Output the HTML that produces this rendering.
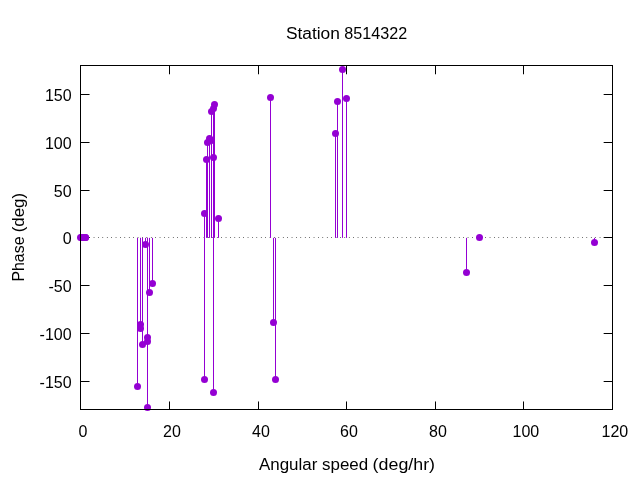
<!DOCTYPE html>
<html><head><meta charset="utf-8"><style>
html,body{margin:0;padding:0;background:#fff;width:640px;height:480px;overflow:hidden}
svg{display:block;will-change:transform}
</style></head><body>
<svg width="640" height="480" viewBox="0 0 640 480">
<rect width="640" height="480" fill="#fff"/>
<line x1="80.55" y1="237.5" x2="612.46" y2="237.5" stroke="#000" stroke-width="1" stroke-dasharray="0.55 3.85" />
<path d="M169.5 409.88V401.48M169.5 65.88V74.28M258.5 409.88V401.48M258.5 65.88V74.28M346.5 409.88V401.48M346.5 65.88V74.28M435.5 409.88V401.48M435.5 65.88V74.28M523.5 409.88V401.48M523.5 65.88V74.28M80.79 381.5H89.54M612.46 381.5H603.66M80.79 333.5H89.54M612.46 333.5H603.66M80.79 285.5H89.54M612.46 285.5H603.66M80.79 237.5H89.54M612.46 237.5H603.66M80.79 190.5H89.54M612.46 190.5H603.66M80.79 142.5H89.54M612.46 142.5H603.66M80.79 94.5H89.54M612.46 94.5H603.66" stroke="#000" stroke-width="1" fill="none"/>
<path d="M137.5 237.88V386.5M140.5 237.88V324.5M140.5 237.88V328.5M142.5 237.88V344.5M145.5 237.88V244.5M147.5 237.88V337.5M147.5 237.88V407.5M147.5 237.88V341.5M149.5 237.88V292.5M152.5 237.88V283.5M204.5 237.88V213.5M204.5 237.88V379.5M206.5 237.88V159.5M207.5 237.88V142.5M209.5 237.88V138.5M211.5 237.88V140.5M211.5 237.88V111.5M213.5 237.88V157.5M213.5 237.88V108.5M213.5 237.88V392.5M214.5 237.88V104.5M218.5 237.88V218.5M270.5 237.88V97.5M273.5 237.88V322.5M275.5 237.88V379.5M335.5 237.88V133.5M337.5 237.88V101.5M342.5 237.88V69.5M346.5 237.88V98.5M466.5 237.88V272.5M594.5 237.88V242.5" stroke="#9400d3" stroke-width="1" fill="none"/>
<circle cx="80.5" cy="237.5" r="3.5" fill="#9400d3"/>
<circle cx="81.5" cy="237.5" r="3.5" fill="#9400d3"/>
<circle cx="83.5" cy="237.5" r="3.5" fill="#9400d3"/>
<circle cx="85.5" cy="237.5" r="3.5" fill="#9400d3"/>
<circle cx="85.5" cy="237.5" r="3.5" fill="#9400d3"/>
<circle cx="137.5" cy="386.5" r="3.5" fill="#9400d3"/>
<circle cx="140.5" cy="324.5" r="3.5" fill="#9400d3"/>
<circle cx="140.5" cy="328.5" r="3.5" fill="#9400d3"/>
<circle cx="142.5" cy="344.5" r="3.5" fill="#9400d3"/>
<circle cx="145.5" cy="244.5" r="3.5" fill="#9400d3"/>
<circle cx="147.5" cy="337.5" r="3.5" fill="#9400d3"/>
<circle cx="147.5" cy="407.5" r="3.5" fill="#9400d3"/>
<circle cx="147.5" cy="341.5" r="3.5" fill="#9400d3"/>
<circle cx="149.5" cy="292.5" r="3.5" fill="#9400d3"/>
<circle cx="152.5" cy="283.5" r="3.5" fill="#9400d3"/>
<circle cx="204.5" cy="213.5" r="3.5" fill="#9400d3"/>
<circle cx="204.5" cy="379.5" r="3.5" fill="#9400d3"/>
<circle cx="206.5" cy="159.5" r="3.5" fill="#9400d3"/>
<circle cx="207.5" cy="142.5" r="3.5" fill="#9400d3"/>
<circle cx="209.5" cy="138.5" r="3.5" fill="#9400d3"/>
<circle cx="211.5" cy="140.5" r="3.5" fill="#9400d3"/>
<circle cx="211.5" cy="111.5" r="3.5" fill="#9400d3"/>
<circle cx="213.5" cy="157.5" r="3.5" fill="#9400d3"/>
<circle cx="213.5" cy="108.5" r="3.5" fill="#9400d3"/>
<circle cx="213.5" cy="392.5" r="3.5" fill="#9400d3"/>
<circle cx="214.5" cy="104.5" r="3.5" fill="#9400d3"/>
<circle cx="218.5" cy="218.5" r="3.5" fill="#9400d3"/>
<circle cx="270.5" cy="97.5" r="3.5" fill="#9400d3"/>
<circle cx="273.5" cy="322.5" r="3.5" fill="#9400d3"/>
<circle cx="275.5" cy="379.5" r="3.5" fill="#9400d3"/>
<circle cx="335.5" cy="133.5" r="3.5" fill="#9400d3"/>
<circle cx="337.5" cy="101.5" r="3.5" fill="#9400d3"/>
<circle cx="342.5" cy="69.5" r="3.5" fill="#9400d3"/>
<circle cx="346.5" cy="98.5" r="3.5" fill="#9400d3"/>
<circle cx="466.5" cy="272.5" r="3.5" fill="#9400d3"/>
<circle cx="479.5" cy="237.5" r="3.5" fill="#9400d3"/>
<circle cx="594.5" cy="242.5" r="3.5" fill="#9400d3"/>
<rect x="80.5" y="65.5" width="532.0" height="344.0" stroke="#000" stroke-width="1" fill="none"/>
<g font-family='"Liberation Sans", sans-serif' font-size="16" fill="#000"><text x="82.90" y="437.2" text-anchor="middle">0</text><text x="171.90" y="437.2" text-anchor="middle">20</text><text x="260.90" y="437.2" text-anchor="middle">40</text><text x="348.90" y="437.2" text-anchor="middle">60</text><text x="437.90" y="437.2" text-anchor="middle">80</text><text x="525.90" y="437.2" text-anchor="middle">100</text><text x="614.90" y="437.2" text-anchor="middle">120</text><text x="71.6" y="387.55" text-anchor="end">-150</text><text x="71.6" y="339.55" text-anchor="end">-100</text><text x="71.6" y="291.55" text-anchor="end">-50</text><text x="71.6" y="243.55" text-anchor="end">0</text><text x="71.6" y="196.55" text-anchor="end">50</text><text x="71.6" y="148.55" text-anchor="end">100</text><text x="71.6" y="100.55" text-anchor="end">150</text><text x="285.90" y="39" textLength="53.98" lengthAdjust="spacingAndGlyphs">Station</text><text x="344.35" y="39" textLength="62.85" lengthAdjust="spacingAndGlyphs">8514322</text><text x="258.95" y="470" textLength="109.22" lengthAdjust="spacingAndGlyphs">Angular speed</text><text x="372.64" y="470" textLength="62.43" lengthAdjust="spacingAndGlyphs">(deg/hr)</text><text transform="rotate(-90)" x="-281.59" y="23.75" textLength="45.07" lengthAdjust="spacingAndGlyphs">Phase</text><text transform="rotate(-90)" x="-232.30" y="23.75" textLength="39.40" lengthAdjust="spacingAndGlyphs">(deg)</text></g>
</svg>
</body></html>
